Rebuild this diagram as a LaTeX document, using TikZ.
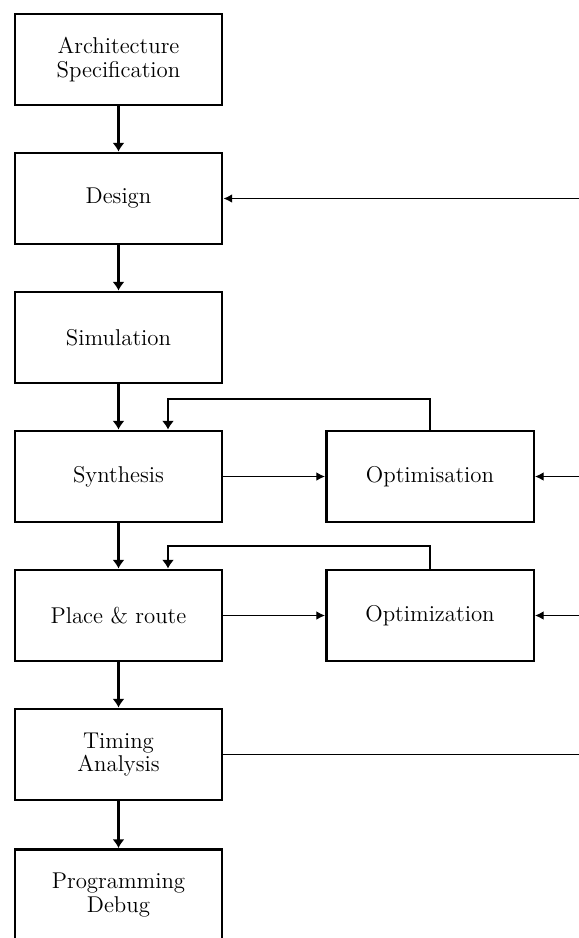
\documentclass[tikz,border=0pt]{standalone}
\usetikzlibrary{arrows.meta}
\begin{document}
\begin{tikzpicture}[x=0.02cm,y=-0.02cm,
    stage/.style={draw,line width=1.4pt,minimum width=4.15cm,minimum height=1.83cm,
        align=center,font=\fontsize{13}{13.5}\selectfont,inner sep=2pt},
    flow/.style={line width=1.4pt,-{Latex[length=5pt,width=7pt]}},
    link/.style={line width=0.8pt,-{Latex[length=5pt,width=5pt]}}]
    \useasboundingbox (0,0) rectangle (579,938);

    \node[stage] (arch) at (118.5,59.5) {Architecture\\Specification};
    \node[stage] (design) at (118.5,198.5) {Design};
    \node[stage] (sim) at (118.5,337.5) {Simulation};
    \node[stage] (synth) at (118.5,476.5) {Synthesis};
    \node[stage] (pr) at (118.5,615.5) {Place \& route};
    \node[stage] (timing) at (118.5,754.5) {Timing\\Analysis};
    \node[stage] (prog) at (118.5,895) {Programming\\Debug};
    \node[stage] (opt1) at (430,476.5) {Optimisation};
    \node[stage] (opt2) at (430,615.5) {Optimization};

    \coordinate (eD) at (579,198.5);
    \coordinate (e1) at (579,476.5);
    \coordinate (e2) at (579,615.5);
    \coordinate (eT) at (579,754.5);
    \coordinate (fb1) at (168,399);
    \coordinate (fb2) at (168,546);

    \draw[flow] (arch) -- (design);
    \draw[flow] (design) -- (sim);
    \draw[flow] (sim) -- (synth);
    \draw[flow] (synth) -- (pr);
    \draw[flow] (pr) -- (timing);
    \draw[flow] (timing) -- (prog);

    \draw[link] (eD) -- (design);
    \draw[link] (synth) -- (opt1);
    \draw[link] (e1) -- (opt1);
    \draw[link] (pr) -- (opt2);
    \draw[link] (e2) -- (opt2);
    \draw[line width=0.8pt] (timing) -- (eT);

    % feedback from the optimisers
    \draw[flow,line width=1.1pt] (opt1.north) |- (fb1) -- (fb1 |- synth.north);
    \draw[flow,line width=1.1pt] (opt2.north) |- (fb2) -- (fb2 |- pr.north);
\end{tikzpicture}
\end{document}
